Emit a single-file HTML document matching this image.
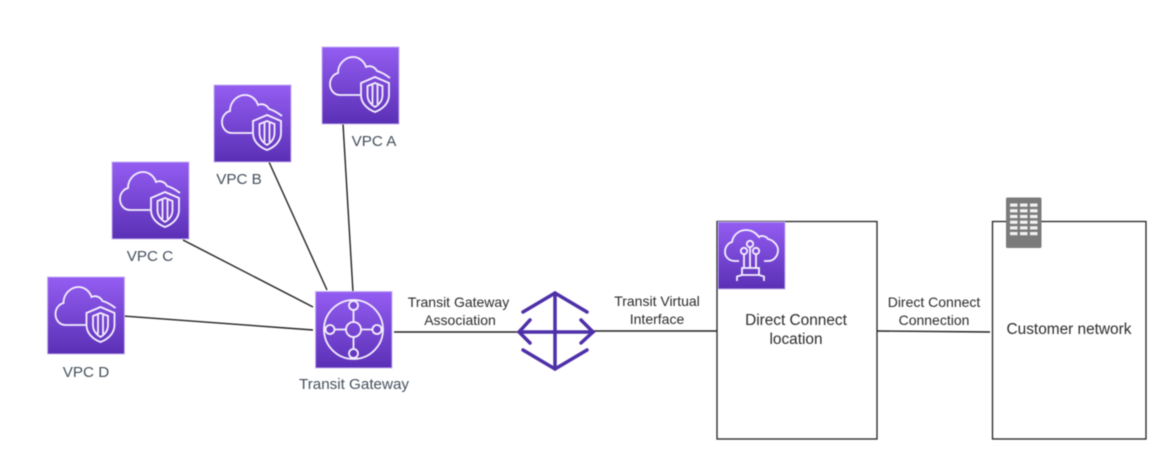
<!DOCTYPE html>
<html>
<head>
<meta charset="utf-8">
<style>
html,body{margin:0;padding:0;background:#fff;width:1176px;height:468px;overflow:hidden}
svg{display:block;filter:blur(0.5px)}
text{font-family:"Liberation Sans",sans-serif;text-anchor:middle}
.a{font-size:15.2px;fill:#434f5c}
.b{font-size:14px;fill:#2b2b2b}
.c{font-size:15.4px;fill:#2b2b2b}
.w{fill:none;stroke:#f6f0fe;stroke-width:1.8}
</style>
</head>
<body>
<svg width="1176" height="468" viewBox="0 0 1176 468" xmlns="http://www.w3.org/2000/svg">
<defs>
<linearGradient id="g" x1="0" y1="0" x2="0" y2="1">
<stop offset="0" stop-color="#945DF2"/>
<stop offset="1" stop-color="#5A30B5"/>
</linearGradient>
<g id="vpc">
<rect x="0" y="0" width="77" height="77" fill="url(#g)" stroke="#c9b4f0" stroke-width="1"/>
<path class="w" d="M38 48H18C12 48 8 43 8 37C8 31 12 27 16 26C16 16 24 10 31 10C37 10 42 14 44 20C48 18 53 20 55 24C59 25 64 28 68 31"/>
<path class="w" d="M53 30L67 36V48C67 56 61 62 53 65C45 62 39 56 39 48V36Z"/>
<path class="w" d="M53 36L60.500 39V48C60.500 53 58 57 53 60C48 57 45.500 53 45.500 48V39Z"/>
<path class="w" d="M50.500 38V57M55.500 38V57"/>
</g>
</defs>

<g stroke="#222" stroke-width="1.4" fill="none">
<line x1="343" y1="124" x2="353" y2="292"/>
<line x1="269" y1="162" x2="327" y2="290"/>
<line x1="183" y1="240" x2="313" y2="307"/>
<line x1="123" y1="316" x2="313" y2="330"/>
<line x1="394" y1="332" x2="520" y2="332"/>
<line x1="592" y1="331" x2="717" y2="331"/>
<line x1="877" y1="331" x2="990" y2="332"/>
</g>

<use href="#vpc" x="322" y="47"/>
<use href="#vpc" x="214" y="85"/>
<use href="#vpc" x="112" y="162"/>
<use href="#vpc" x="47.5" y="277"/>

<text class="a" x="374" y="146">VPC A</text>
<text class="a" x="239" y="184">VPC B</text>
<text class="a" x="150" y="261">VPC C</text>
<text class="a" x="86" y="377">VPC D</text>

<!-- Transit Gateway -->
<g transform="translate(315.5,291.5)">
<rect x="0" y="0" width="76.5" height="76.5" fill="url(#g)" stroke="#c9b4f0" stroke-width="1"/>
<g class="w">
<circle cx="38" cy="38" r="29.5"/>
<circle cx="38" cy="38" r="7.5"/>
<circle cx="38" cy="14" r="4.5" fill="#7a49d8"/>
<circle cx="38" cy="62" r="4.5" fill="#6437c2"/>
<circle cx="14.5" cy="38" r="4.5" fill="#7040cd"/>
<circle cx="61.5" cy="38" r="4.5" fill="#7040cd"/>
<path d="M38 18.500V30.500M38 45.500V57.500M19 38H30.500M45.500 38H57"/>
</g>
</g>
<text class="a" x="354" y="389">Transit Gateway</text>

<text class="b" x="458.500" y="307">Transit Gateway</text>
<text class="b" x="460" y="325">Association</text>

<!-- Arrows -->
<g fill="none" stroke="#4D2FA8" stroke-width="3.500" stroke-linecap="round" stroke-linejoin="miter">
<path d="M523 312L555 293L587 312"/>
<path d="M523 350L555 369L587 350"/>
<path d="M555 293V369"/>
<path d="M520 332H593"/>
<path d="M530 320L519 332L530 343"/>
<path d="M581 320L593 332L581 343"/>
</g>

<text class="b" x="657" y="306">Transit Virtual</text>
<text class="b" x="657" y="324">Interface</text>

<!-- Direct Connect location -->
<rect x="717" y="221.500" width="160" height="217.500" fill="#fff" stroke="#222" stroke-width="1.3"/>
<g transform="translate(718,222)">
<rect x="0" y="0" width="67" height="67" fill="url(#g)" stroke="#c9b4f0" stroke-width="1"/>
<g class="w">
<path d="M21 39H17C11 39 7 35 7 30C7 25 10 21 14 20C15 13 21 8 28 8C34 8 38 11 41 15C43 13 48 14 50 17C55 18 60 23 60 28C60 34 56 39 50 39H46"/>
<circle cx="32" cy="22" r="3.200"/>
<circle cx="26" cy="29" r="3.200"/>
<circle cx="38" cy="29" r="3.200"/>
<path d="M32 25V46M26 32V46M38 32V46"/>
<path d="M24 46H41V53H24ZM24 53L19 54.500V59M41 53L46 54.500V59"/>
</g>
</g>
<text class="c" x="796" y="325">Direct Connect</text>
<text class="c" x="796" y="344">location</text>

<text class="b" x="934" y="307">Direct Connect</text>
<text class="b" x="934" y="325">Connection</text>

<!-- Customer network -->
<rect x="992.500" y="221.500" width="153.500" height="217.500" fill="#fff" stroke="#222" stroke-width="1.3"/>
<rect x="1006" y="197.500" width="35.500" height="50.500" rx="1.500" fill="#7b7b7b"/>
<g fill="#f1f1f1">
<rect x="1010" y="203.500" width="7.500" height="3.200"/><rect x="1020" y="203.500" width="7.500" height="3.200"/><rect x="1030" y="203.500" width="7.500" height="3.200"/>
<rect x="1010" y="209.200" width="7.500" height="3.200"/><rect x="1020" y="209.200" width="7.500" height="3.200"/><rect x="1030" y="209.200" width="7.500" height="3.200"/>
<rect x="1010" y="214.900" width="7.500" height="3.200"/><rect x="1020" y="214.900" width="7.500" height="3.200"/><rect x="1030" y="214.900" width="7.500" height="3.200"/>
<rect x="1010" y="220.600" width="7.500" height="3.200"/><rect x="1020" y="220.600" width="7.500" height="3.200"/><rect x="1030" y="220.600" width="7.500" height="3.200"/>
<rect x="1010" y="226.300" width="7.500" height="3.200"/><rect x="1020" y="226.300" width="7.500" height="3.200"/><rect x="1030" y="226.300" width="7.500" height="3.200"/>
<rect x="1010" y="232" width="7.500" height="3.200"/><rect x="1020" y="232" width="7.500" height="3.200"/><rect x="1030" y="232" width="7.500" height="3.200"/>
</g>
<text class="c" x="1069" y="334">Customer network</text>
</svg>
</body>
</html>
